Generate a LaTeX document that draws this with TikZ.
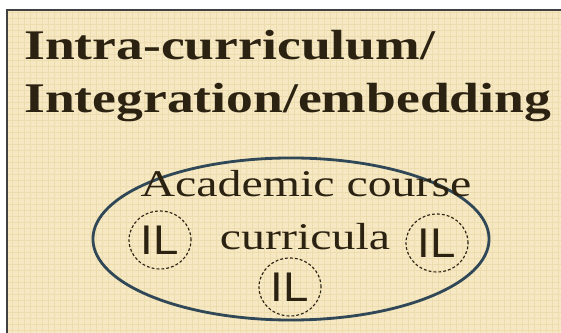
\documentclass[tikz,border=0pt]{standalone}
\usepackage{fontspec}
\usepackage{xcolor}
\usetikzlibrary{shapes.geometric}
\setmainfont{Liberation Serif}
\newfontfamily\slidefont[FakeStretch=1.27]{Liberation Serif}
\newfontfamily\ilfont[FakeStretch=1.1]{Liberation Sans}
\definecolor{paper}{HTML}{F5E8C2}
\definecolor{paperline}{HTML}{ECDCAE}
\definecolor{ink}{HTML}{2B2212}
\definecolor{ringcol}{HTML}{2F4756}

\begin{document}
\begin{tikzpicture}[x=0.025cm,y=-0.025cm,
    heading/.style={anchor=base west,inner sep=0pt,text=ink,font=\slidefont\bfseries\fontsize{30}{36}\selectfont},
    body/.style={anchor=base,inner sep=0pt,text=ink,font=\slidefont\fontsize{26.8}{32}\selectfont},
    ilring/.style={ellipse,draw=ink,dashed,dash pattern=on 2pt off 1.5pt,line width=0.8pt,
        minimum width=1.55cm,minimum height=1.45cm,inner sep=0pt,text=ink,font=\ilfont\fontsize{29.5}{32}\selectfont}]
    \useasboundingbox (0,0) rectangle (561,333);
    % slide background
    \fill[paper] (7,10) rectangle (561,333);
    \draw[paperline,line width=0.5pt,step=0.15cm] (7,10) grid (561,333);
    \draw[black!75,line width=1.4pt] (561,10) -- (7,10) -- (7,333);

    \node[heading] (title1) at (24,60) {Intra-curriculum/};
    \node[heading] (title2) at (24,113) {Integration/embedding};

    \node[ellipse,draw=ringcol,line width=2pt,minimum width=9.9cm,minimum height=4.05cm] (course) at (291,239) {};
    \node[body] (acad) at (306,197) {Academic course};
    \node[body] (curr) at (305,250) {curricula};

    \node[ilring] (il1) at (160,240) {IL};
    \node[ilring] (il2) at (437,243) {IL};
    \node[ilring] (il3) at (290,287) {IL};
\end{tikzpicture}
\end{document}
